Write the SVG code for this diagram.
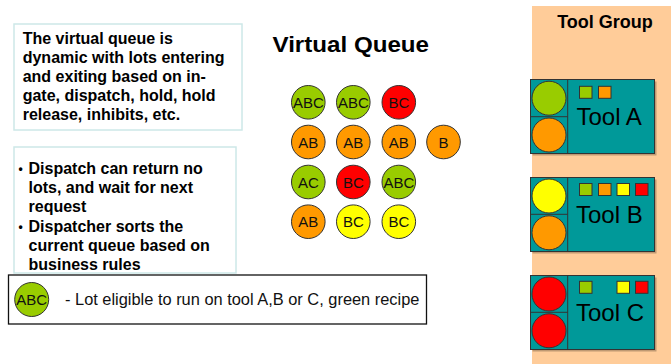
<svg xmlns="http://www.w3.org/2000/svg" width="671" height="364" viewBox="0 0 671 364">
<style>
.note{fill:#fff;stroke:#cde8e8;stroke-width:1.5}
.nt{font-family:"Liberation Sans",Arial,sans-serif;font-weight:bold;font-size:16px;fill:#000}
.bul{font-family:"Liberation Sans",Arial,sans-serif;font-weight:bold;font-size:12px;fill:#000}
.lot{stroke:#333;stroke-width:1}
.lt{font-family:"Liberation Sans",Arial,sans-serif;font-size:15px;fill:#111;text-anchor:middle}
.g{fill:#99cc00}.o{fill:#ff9900}.r{fill:#ff0000}.y{fill:#ffff00}
.tool{fill:#009999;stroke:#333;stroke-width:1}
.shadow{fill:#000;opacity:0.25}
.sq{stroke:#333;stroke-width:1}
.tt{font-family:"Liberation Sans",Arial,sans-serif;font-size:24px;fill:#000}
</style>
<rect width="671" height="364" fill="#fff"/>
<g id="tool-group">
<rect x="532" y="6" width="139" height="358" fill="#ffcc99"/>
<text x="605" y="27.5" text-anchor="middle" class="nt" style="font-size:18px">Tool Group</text>
</g>
<g id="note-virtual-queue">
<rect class="note" x="14" y="24" width="228" height="106"/>
<text class="nt"><tspan x="22.7" y="44.3">The virtual queue is</tspan><tspan x="22.7" y="63.3">dynamic with lots entering</tspan><tspan x="22.7" y="82.3">and exiting based on in-</tspan><tspan x="22.7" y="101.3">gate, dispatch, hold, hold</tspan><tspan x="22.7" y="120.3">release, inhibits, etc.</tspan></text>
</g>
<g id="note-dispatch">
<rect class="note" x="14" y="147" width="222" height="126"/>
<text class="bul"><tspan x="18.5" y="173.3">•</tspan><tspan x="18.5" y="230.5">•</tspan></text>
<text class="nt"><tspan x="28.5" y="174.3">Dispatch can return no</tspan><tspan x="28.5" y="193.3">lots, and wait for next</tspan><tspan x="28.5" y="212.3">request</tspan><tspan x="28.5" y="231.5">Dispatcher sorts the</tspan><tspan x="28.5" y="250.6">current queue based on</tspan><tspan x="28.5" y="269.7">business rules</tspan></text>
</g>
<g id="legend">
<rect x="8.5" y="275" width="418" height="49" fill="#fff" stroke="#111" stroke-width="1.3"/>
<circle class="lot g" cx="31.7" cy="299.5" r="17"/>
<text class="lt" x="31.7" y="305">ABC</text>
<text x="65" y="304.5" font-family="'Liberation Sans',Arial,sans-serif" font-size="16.4" fill="#111">- Lot eligible to run on tool A,B or C, green recipe</text>
</g>
<g id="virtual-queue">
<text x="272.5" y="51.7" font-family="'Liberation Sans',Arial,sans-serif" font-weight="bold" font-size="21.5" textLength="156.5" lengthAdjust="spacingAndGlyphs" fill="#000">Virtual Queue</text>
<g id="lot-r1c1"><circle class="lot g" cx="308.3" cy="102.3" r="16.8"/><text class="lt" x="308.3" y="107.8">ABC</text></g>
<g id="lot-r1c2"><circle class="lot g" cx="353.3" cy="102.3" r="16.8"/><text class="lt" x="353.3" y="107.8">ABC</text></g>
<g id="lot-r1c3"><circle class="lot r" cx="398.8" cy="102.3" r="16.8"/><text class="lt" x="398.8" y="107.8">BC</text></g>
<g id="lot-r2c1"><circle class="lot o" cx="308.3" cy="142" r="16.8"/><text class="lt" x="308.3" y="147.5">AB</text></g>
<g id="lot-r2c2"><circle class="lot o" cx="353.3" cy="142" r="16.8"/><text class="lt" x="353.3" y="147.5">AB</text></g>
<g id="lot-r2c3"><circle class="lot o" cx="398.8" cy="142" r="16.8"/><text class="lt" x="398.8" y="147.5">AB</text></g>
<g id="lot-r2c4"><circle class="lot o" cx="443.5" cy="142" r="16.8"/><text class="lt" x="443.5" y="147.5">B</text></g>
<g id="lot-r3c1"><circle class="lot g" cx="308.3" cy="182" r="16.8"/><text class="lt" x="308.3" y="187.5">AC</text></g>
<g id="lot-r3c2"><circle class="lot r" cx="353.3" cy="182" r="16.8"/><text class="lt" x="353.3" y="187.5">BC</text></g>
<g id="lot-r3c3"><circle class="lot g" cx="398.8" cy="182" r="16.8"/><text class="lt" x="398.8" y="187.5">ABC</text></g>
<g id="lot-r4c1"><circle class="lot o" cx="308.3" cy="221.7" r="16.8"/><text class="lt" x="308.3" y="227.2">AB</text></g>
<g id="lot-r4c2"><circle class="lot y" cx="353.3" cy="221.7" r="16.8"/><text class="lt" x="353.3" y="227.2">BC</text></g>
<g id="lot-r4c3"><circle class="lot y" cx="398.8" cy="221.7" r="16.8"/><text class="lt" x="398.8" y="227.2">BC</text></g>
</g>
<g id="tool-a">
<rect class="shadow" x="532.5" y="81.5" width="124" height="74"/>
<rect class="tool" x="530.5" y="79.5" width="124" height="74"/>
<line x1="567.7" y1="79.5" x2="567.7" y2="153.5" stroke="#333"/>
<line x1="530.5" y1="116.7" x2="567.7" y2="116.7" stroke="#333"/>
<circle class="lot g" cx="549" cy="98.2" r="17"/>
<circle class="lot o" cx="549" cy="135" r="17"/>
<rect class="sq g" x="579.5" y="86.3" width="12.5" height="12"/>
<rect class="sq o" x="598.5" y="86.3" width="12.5" height="12"/>
<text class="tt" x="576.5" y="125">Tool A</text>
</g>
<g id="tool-b">
<rect class="shadow" x="532.5" y="179.5" width="124" height="74"/>
<rect class="tool" x="530.5" y="177.5" width="124" height="74"/>
<line x1="567.7" y1="177.5" x2="567.7" y2="251.5" stroke="#333"/>
<line x1="530.5" y1="214.3" x2="567.7" y2="214.3" stroke="#333"/>
<circle class="lot y" cx="549" cy="196" r="17"/>
<circle class="lot o" cx="549" cy="232.8" r="17"/>
<rect class="sq g" x="579.5" y="183.5" width="12.5" height="12"/>
<rect class="sq o" x="598.5" y="183.5" width="12.5" height="12"/>
<rect class="sq y" x="617" y="183.5" width="12.5" height="12"/>
<rect class="sq r" x="635.5" y="183.5" width="12.5" height="12"/>
<text class="tt" x="576" y="223.3">Tool B</text>
</g>
<g id="tool-c">
<rect class="shadow" x="532.5" y="277.5" width="124" height="74"/>
<rect class="tool" x="530.5" y="275.5" width="124" height="74"/>
<line x1="567.7" y1="275.5" x2="567.7" y2="349.5" stroke="#333"/>
<line x1="530.5" y1="312.3" x2="567.7" y2="312.3" stroke="#333"/>
<circle class="lot r" cx="549" cy="294" r="17"/>
<circle class="lot r" cx="549" cy="330.8" r="17"/>
<rect class="sq g" x="579.5" y="281.3" width="12.5" height="12"/>
<rect class="sq y" x="617" y="281.3" width="12.5" height="12"/>
<rect class="sq r" x="635.5" y="281.3" width="12.5" height="12"/>
<text class="tt" x="576" y="321">Tool C</text>
</g>
<g id="connectors"/>
</svg>
